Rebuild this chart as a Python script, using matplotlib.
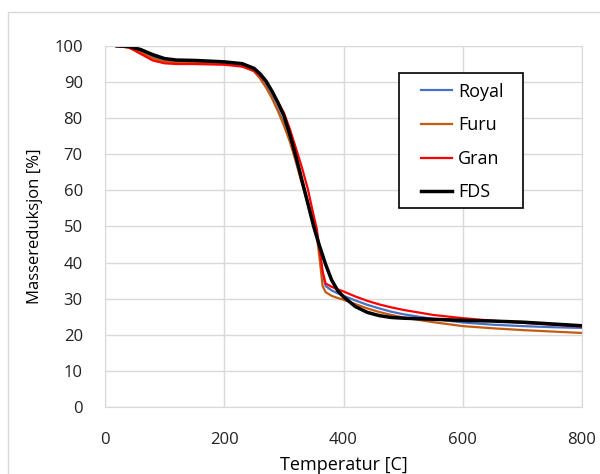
import matplotlib
matplotlib.use('Agg')
from matplotlib import pyplot as plt
from matplotlib.patches import Rectangle

temp = [20, 40, 60, 80, 100, 120, 150, 200, 230, 250, 260, 270, 280, 290, 300,
        310, 320, 330, 340, 350, 355, 360, 365, 370, 380, 390, 400, 420, 440,
        460, 480, 500, 550, 600, 650, 700, 750, 800]

royal = [100, 99.7, 98.8, 97.0, 95.8, 95.4, 95.3, 95.1, 94.5, 93.0, 91.2, 88.8,
         85.8, 82.3, 78.5, 74.0, 68.5, 62.5, 57.0, 51.3, 48.0, 43.0, 37.0, 33.5,
         32.3, 31.5, 30.8, 29.5, 28.3, 27.3, 26.4, 25.7, 24.4, 23.4, 22.8, 22.4,
         22.1, 21.9]
furu = [100, 99.5, 98.3, 96.6, 95.7, 95.4, 95.3, 95.1, 94.4, 93.0, 91.0, 88.5,
        85.5, 82.0, 78.0, 73.5, 68.0, 62.0, 56.5, 51.0, 47.5, 41.0, 33.5, 31.8,
        30.8, 30.2, 29.7, 28.5, 27.3, 26.3, 25.5, 24.8, 23.5, 22.4, 21.8, 21.3,
        20.9, 20.5]
gran = [100, 99.6, 97.8, 96.0, 95.2, 95.0, 95.0, 94.8, 94.3, 93.2, 91.8, 90.0,
        87.5, 84.5, 81.5, 77.0, 71.8, 66.5, 60.5, 53.0, 49.5, 43.5, 37.5, 34.2,
        33.3, 32.6, 32.0, 30.6, 29.4, 28.4, 27.6, 26.9, 25.5, 24.6, 23.9, 23.3,
        22.8, 22.3]
fds = [100, 99.9, 99.0, 97.6, 96.5, 96.1, 96.0, 95.6, 95.1, 93.8, 92.3, 90.3,
       87.5, 84.3, 80.7, 75.5, 69.5, 63.0, 56.5, 50.0, 47.2, 44.5, 42.0, 39.5,
       35.2, 32.3, 30.5, 27.8, 26.2, 25.3, 24.8, 24.6, 24.3, 24.0, 23.8, 23.5,
       23.0, 22.5]

plt.rcParams['font.family'] = ['Open Sans', 'DejaVu Sans']

fig = plt.figure(figsize=(6.0, 4.74), dpi=100)
ax = fig.add_axes([0.175, 0.1414, 0.795, 0.7616])

ax.plot(temp, royal, color='#4472C4', lw=1.6, label='Royal', solid_joinstyle='round')
ax.plot(temp, furu, color='#C55A11', lw=1.6, label='Furu', solid_joinstyle='round')
ax.plot(temp, gran, color='#FF0000', lw=1.6, label='Gran', solid_joinstyle='round')
ax.plot(temp, fds, color='black', lw=2.5, label='FDS', solid_joinstyle='round')

ax.set_xlim(0, 800)
ax.set_ylim(0, 100)
ax.set_xticks(range(0, 801, 200))
ax.set_yticks(range(0, 101, 10))
ax.grid(True, color='#D9D9D9', lw=1)
ax.set_axisbelow(True)
for s in ax.spines.values():
    s.set_color('#D9D9D9')
ax.tick_params(length=0, labelsize=12, colors='#222222')
ax.tick_params(axis='x', pad=18)
ax.tick_params(axis='y', pad=16)
ax.set_xlabel('Temperatur [C]', fontsize=13, labelpad=6)
ax.set_ylabel('Massereduksjon [%]', fontsize=12, labelpad=8)

# legend entries without frame, box drawn separately so its size matches
leg = ax.legend(loc='upper left', bbox_to_anchor=(0.662, 0.898), borderaxespad=0,
                borderpad=0, fontsize=13, frameon=False, handlelength=1.72,
                labelspacing=0.86, handletextpad=0.33)
ax.add_patch(Rectangle((0.616, 0.551), 0.26, 0.374, transform=ax.transAxes,
                       facecolor='white', edgecolor='black', lw=1.2, zorder=4))
leg.set_zorder(5)

fig.patches.append(Rectangle((8 / 600, -0.1), 1.2, 1.1 - 12 / 474,
                             transform=fig.transFigure, fill=False,
                             edgecolor='#D9D9D9', lw=1))

fig.savefig('out.png', dpi=100)
